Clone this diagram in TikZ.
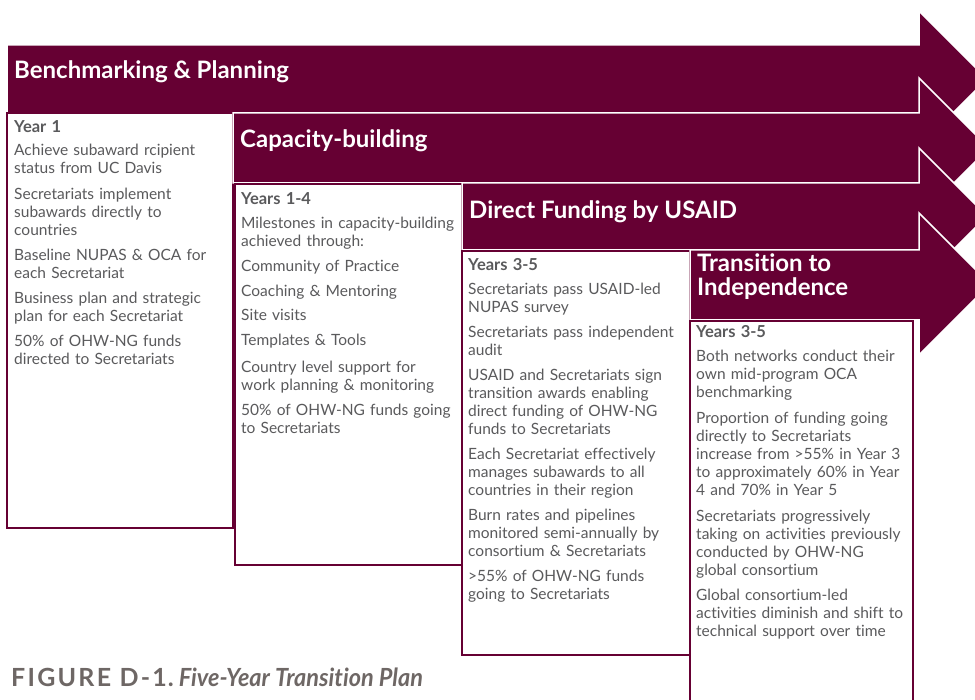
\documentclass[tikz,border=0pt]{standalone}
\usepackage{fontspec}
\usepackage{graphicx}
\setmainfont{Lato}[Ligatures=NoCommon]
\definecolor{maroon}{HTML}{660033}
\definecolor{txt}{HTML}{5A5A5C}
\definecolor{capgray}{HTML}{6E6765}
\tikzset{
  arrowband/.style={fill=maroon, draw=white, line width=1.5pt, line join=miter},
  panel/.style={fill=white, draw=maroon, line width=2pt},
  bandtitle/.style={anchor=base west, inner sep=0pt, text=white, align=left,
    font=\fontsize{24}{24}\selectfont\bfseries},
  body/.style={anchor=base west, inner sep=0pt, text=txt, align=left, text width=240pt,
    font=\fontsize{15.5}{18}\selectfont},
  yearhead/.style={font=\fontsize{16.5}{18}\selectfont\bfseries},
}
\newcommand{\yhead}[1]{{\fontsize{16.5}{18}\selectfont\bfseries #1}}
\begin{document}
\begin{tikzpicture}[x=1pt,y=-1pt]
\useasboundingbox (0,0) rectangle (975,700);
\clip (0,0) rectangle (975,700);
% arrow 1 and panel 1
\draw[arrowband] (7,45) -- (919,45) -- (919,11) -- (987,79) -- (919,147) -- (919,113) -- (7,113) -- cycle;
\node[bandtitle] (h1) at (14,79) {Benchmarking \& Planning};
\draw[panel] (7,113) rectangle (233,528);
\node[body] (t1) at (14,133) {\yhead{Year 1}\\[5pt]
Achieve subaward rcipient\\ status from UC Davis\\[8pt]
Secretariats implement\\ subawards directly to\\ countries\\[7pt]
Baseline NUPAS \& OCA for\\ each Secretariat\\[7pt]
Business plan and strategic\\ plan for each Secretariat\\[7pt]
50\% of OHW-NG funds\\ directed to Secretariats};
% arrow 2 and panel 2
\draw[arrowband] (233,113) -- (919,113) -- (919,78) -- (989,148) -- (919,218) -- (919,183) -- (233,183) -- cycle;
\node[bandtitle] (h2) at (240,148) {Capacity-building};
\draw[panel] (235,184) rectangle (462,565);
\node[body] (t2) at (241,205) {\yhead{Years 1-4}\\[6pt]
Milestones in capacity-building\\ achieved through:\\[7pt]
Community of Practice\\[7pt]
Coaching \& Mentoring\\[6pt]
Site visits\\[7pt]
Templates \& Tools\\[9pt]
Country level support for\\ work planning \& monitoring\\[7pt]
50\% of OHW-NG funds going\\ to Secretariats};
% arrow 3 and panel 3
\draw[arrowband] (462,183) -- (919,183) -- (919,148) -- (987,216) -- (919,284) -- (919,250) -- (462,250) -- cycle;
\node[bandtitle] (h3) at (469,219) {Direct Funding by USAID};
\draw[panel] (462,251) rectangle (690,655);
\node[body] (t3) at (468,271) {\yhead{Years 3-5}\\[6pt]
Secretariats pass USAID-led\\ NUPAS survey\\[7pt]
Secretariats pass independent\\ audit\\[7pt]
USAID and Secretariats sign\\ transition awards enabling\\ direct funding of OHW-NG\\ funds to Secretariats\\[7pt]
Each Secretariat effectively\\ manages subawards to all\\ countries in their region\\[7pt]
Burn rates and pipelines\\ monitored semi-annually by\\ consortium \& Secretariats\\[7pt]
>55\% of OHW-NG funds\\ going to Secretariats};
% arrow 4 and panel 4
\draw[arrowband] (690,250) -- (919,250) -- (919,213) -- (990,284) -- (919,355) -- (919,320) -- (690,320) -- cycle;
\node[bandtitle] (h4) at (697,296) {Transition to\\ Independence};
\draw[panel] (690,321) rectangle (913,705);
\node[body] (t4) at (696,338) {\yhead{Years 3-5}\\[6pt]
Both networks conduct their\\ own mid-program OCA\\ benchmarking\\[8pt]
Proportion of funding going\\ directly to Secretariats\\ increase from >55\% in Year 3\\ to approximately 60\% in Year\\ 4 and 70\% in Year 5\\[8pt]
Secretariats progressively\\ taking on activities previously\\ conducted by OHW-NG\\ global consortium\\[7pt]
Global consortium-led\\ activities diminish and shift to\\ technical support over time};
% caption
\node[anchor=base west, inner sep=0pt, text=capgray, font=\fontsize{25}{28}\selectfont\bfseries] (cap) at (11,686)
 {\addfontfeature{LetterSpace=9}FIGURE D-1\kern1pt.\kern5pt\scalebox{0.94}[1]{\addfontfeature{LetterSpace=0}\itshape Five-Year Transition Plan}};
\end{tikzpicture}
\end{document}
